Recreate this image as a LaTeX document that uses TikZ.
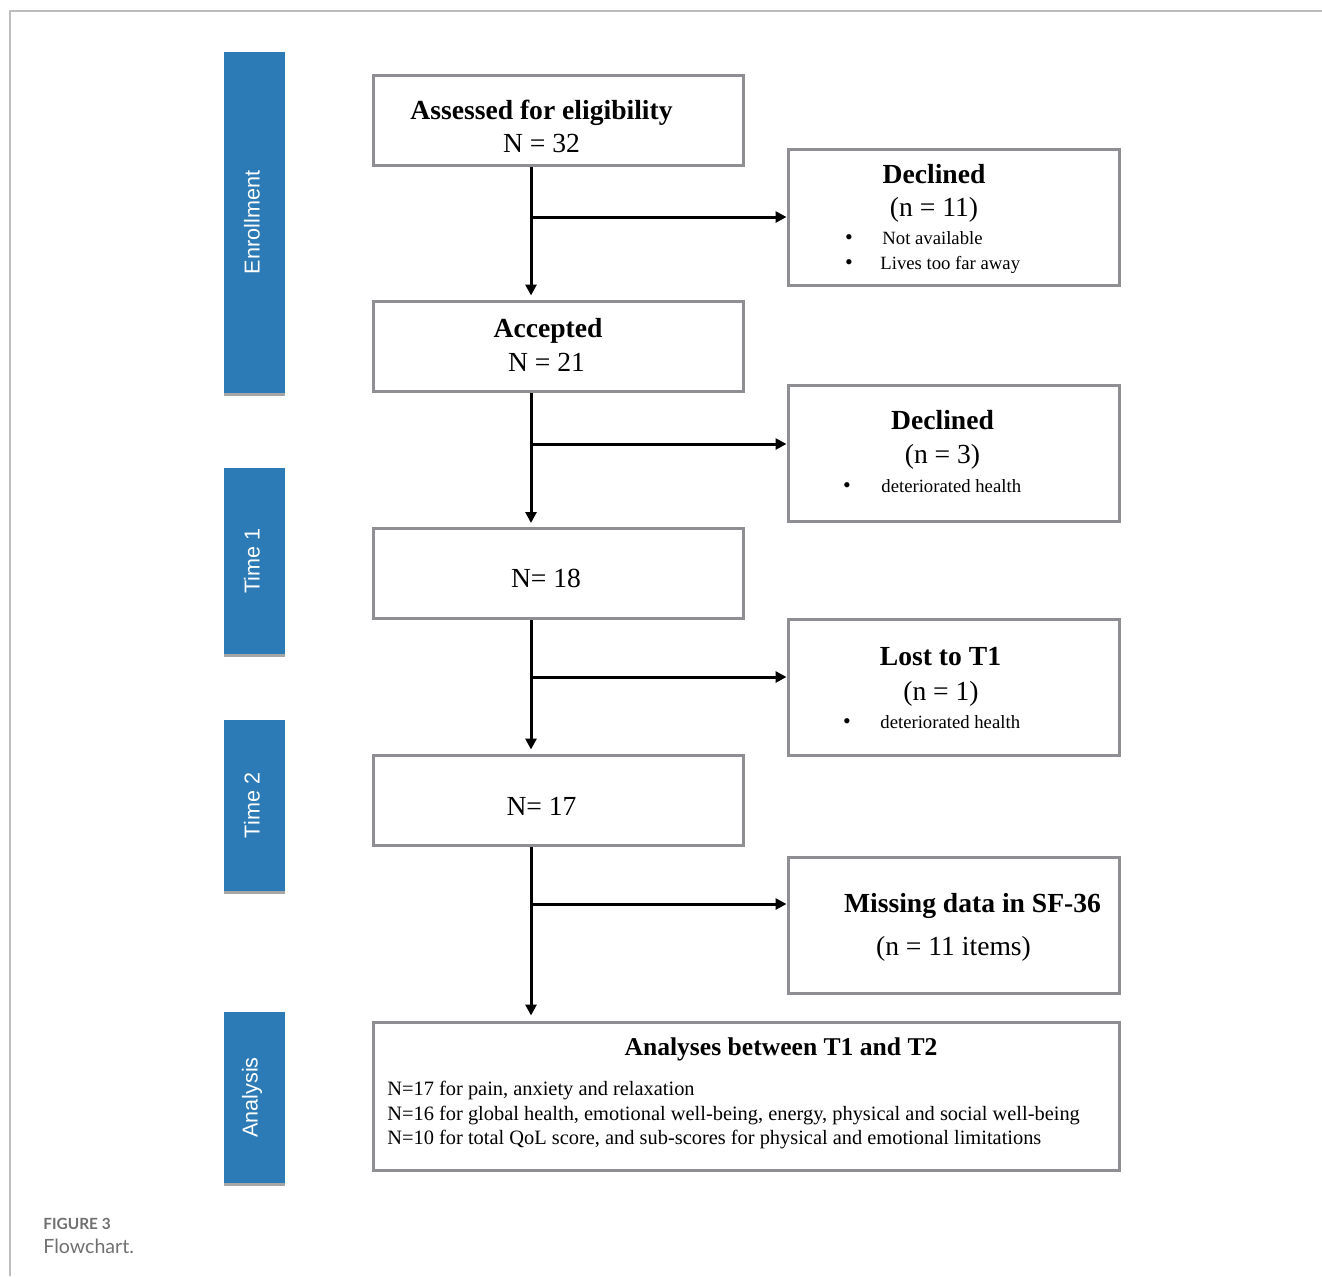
\documentclass[tikz,border=0pt]{standalone}
\usepackage{fontspec}
\setmainfont{Liberation Serif}
\newfontfamily\barfont{Liberation Sans}
\newfontfamily\capfont{Lato}
\usetikzlibrary{arrows.meta,shadows}
\definecolor{barblue}{HTML}{2C7BB6}
\definecolor{boxgray}{HTML}{8E8E93}
\definecolor{framegray}{HTML}{BDBDBD}
\definecolor{capgray}{HTML}{707070}

\begin{document}
\begin{tikzpicture}[x=0.5pt, y=-0.5pt, inner sep=0pt,
    box/.style = {draw=boxgray, line width=1.5pt},
    leftbox/.style = {box, minimum width=185pt, minimum height=45pt},
    rightbox/.style = {box, minimum width=165.5pt, minimum height=68pt},
    phase/.style = {fill=barblue, minimum width=30.5pt,
      drop shadow={shadow xshift=0.2pt, shadow yshift=-1.4pt, fill=black, opacity=0.35}},
    phasetext/.style = {rotate=90, text=white, font=\barfont\fontsize{10.8}{13}\selectfont},
    big/.style = {anchor=base, font=\fontsize{13.8}{16}\selectfont},
    bigbold/.style = {anchor=base, font=\fontsize{13.8}{16}\selectfont\bfseries},
    small/.style = {anchor=base west, font=\fontsize{9.35}{11}\selectfont},
    dot/.style = {anchor=base, font=\fontsize{11}{11}\selectfont},
    body/.style = {anchor=base west, font=\fontsize{10.2}{12}\selectfont},
    flow/.style = {line width=1.5pt, -{Triangle[length=5.5pt, width=5.5pt]}}]
  \useasboundingbox (0,0) rectangle (1322,1276);

  % page frame
  \draw[framegray, line width=1pt] (1322,11) -- (10,11) -- (10,1276);

  % phases
  \node[phase, minimum height=170.5pt] (enrol) at (254.5,222.5) {};
  \node[phasetext] (enrolt) at (252,222.5) {Enrollment};
  \node[phase, minimum height=93pt] (time1) at (254.5,561) {};
  \node[phasetext] (time1t) at (252,561) {Time 1};
  \node[phase, minimum height=85.5pt] (time2) at (254.5,805.5) {};
  \node[phasetext] (time2t) at (252,805.5) {Time 2};
  \node[phase, minimum height=85.5pt] (anal) at (254.5,1097.5) {};
  \node[phasetext] (analt) at (252,1097.5) {Analysis};

  % main column
  \node[leftbox] (assess) at (558,120) {};
  \node[bigbold] (assesst) at (541.5,119) {Assessed for eligibility};
  \node[big] (assessn) at (541.5,152) {N = 32};

  \node[leftbox] (accept) at (558,346) {};
  \node[bigbold] (acceptt) at (548,337.5) {Accepted};
  \node[big] (acceptn) at (546.5,371) {N = 21};

  \node[leftbox] (t1) at (558,573.5) {};
  \node[big] (t1n) at (546,587) {N= 18};

  \node[leftbox] (t2) at (558,800) {};
  \node[big] (t2n) at (541.5,815) {N= 17};

  % exclusions
  \node[rightbox] (decl1) at (953.5,217) {};
  \node[bigbold] (decl1t) at (934,183) {Declined};
  \node[big] (decl1n) at (934,216) {(n = 11)};
  \node[dot] (decl1d1) at (849,244) {•};
  \node[small] (decl1a) at (882,244) {Not available};
  \node[dot] (decl1d2) at (849,269) {•};
  \node[small] (decl1b) at (880,269) {Lives too far away};

  \node[rightbox] (decl2) at (953.5,453) {};
  \node[bigbold] (decl2t) at (942.5,429) {Declined};
  \node[big] (decl2n) at (942.5,463) {(n = 3)};
  \node[dot] (decl2d) at (847,492) {•};
  \node[small] (decl2a) at (881,492) {deteriorated health};

  \node[rightbox] (lost) at (953.5,687) {};
  \node[bigbold] (lostt) at (940.5,665.5) {Lost to T1};
  \node[big] (lostn) at (941,700) {(n = 1)};
  \node[dot] (lostd) at (847,728) {•};
  \node[small] (losta) at (880,728) {deteriorated health};

  \node[rightbox] (miss) at (953.5,925) {};
  \node[bigbold] (misst) at (972.5,912) {Missing data in SF-36};
  \node[big] (missn) at (953.5,955) {(n = 11 items)};

  % analyses
  \node[box, minimum width=373pt, minimum height=74pt] (analyses) at (746,1096) {};
  \node[anchor=base, font=\fontsize{12.8}{15}\selectfont\bfseries] (analysest) at (781,1055) {Analyses between T1 and T2};
  \node[body] (anl1) at (387,1095) {N=17 for pain, anxiety and relaxation};
  \node[body] (anl2) at (387,1120) {N=16 for global health, emotional well-being, energy, physical and social well-being};
  \node[body] (anl3) at (387,1144) {N=10 for total QoL score, and sub-scores for physical and emotional limitations};

  % connectors
  \coordinate (j1) at (531,217);
  \coordinate (j2) at (531,444);
  \coordinate (j3) at (531,677);
  \coordinate (j4) at (531,904);
  \draw[flow, shorten >=2pt] (assess.south -| j1) -- (accept.north -| j1);
  \draw[flow] (j1) -- (j1 -| decl1.west);
  \draw[flow, shorten >=2pt] (accept.south -| j2) -- (t1.north -| j2);
  \draw[flow] (j2) -- (j2 -| decl2.west);
  \draw[flow, shorten >=2pt] (t1.south -| j3) -- (t2.north -| j3);
  \draw[flow] (j3) -- (j3 -| lost.west);
  \draw[flow, shorten >=2.5pt] (t2.south -| j4) -- (analyses.north -| j4);
  \draw[flow] (j4) -- (j4 -| miss.west);

  % caption
  \node[anchor=base west, text=capgray, font=\capfont\bfseries\fontsize{7.7}{9}\selectfont] (fig) at (43,1229) {FIGURE 3};
  \node[anchor=base west, text=capgray, font=\capfont\fontsize{9.8}{12}\selectfont] (caption) at (43,1253) {Flowchart.};
\end{tikzpicture}
\end{document}
